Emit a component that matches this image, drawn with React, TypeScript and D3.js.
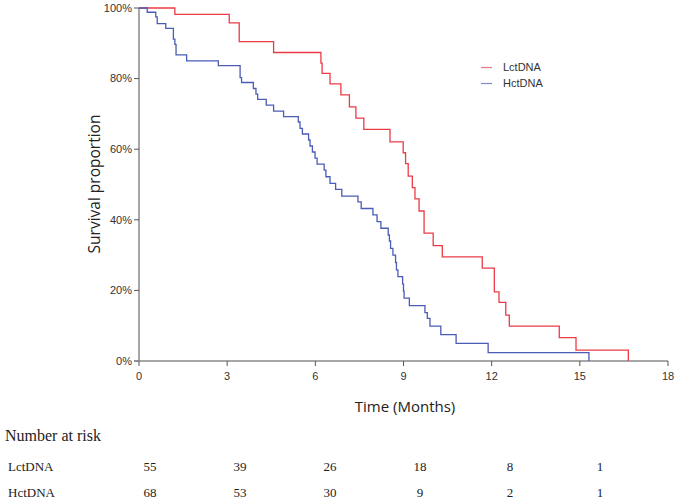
import React from "react";
import * as d3 from "d3";

const xTicks = [0, 3, 6, 9, 12, 15, 18];
const yTicks = [0, 0.2, 0.4, 0.6, 0.8, 1.0];

const lctTimes = [0, 1.22, 3.07, 3.41, 4.58, 6.19, 6.23, 6.5, 6.87, 7.16, 7.38, 7.65, 8.54, 8.99, 9.07, 9.16, 9.3, 9.39, 9.53, 9.7, 10.01, 10.32, 11.68, 12.09, 12.25, 12.48, 12.6, 14.3, 14.87, 16.65];
const lctSurv = [1, 0.982, 0.958, 0.905, 0.874, 0.844, 0.815, 0.785, 0.754, 0.72, 0.688, 0.656, 0.621, 0.59, 0.559, 0.524, 0.491, 0.459, 0.425, 0.362, 0.327, 0.295, 0.263, 0.196, 0.166, 0.13, 0.099, 0.066, 0.031, 0];

const hctTimes = [0, 0.28, 0.57, 0.62, 0.91, 1.17, 1.22, 1.26, 1.62, 2.7, 3.44, 3.49, 3.89, 3.98, 4.04, 4.33, 4.58, 4.92, 5.42, 5.48, 5.56, 5.77, 5.82, 5.9, 5.99, 6.06, 6.3, 6.36, 6.5, 6.69, 6.9, 7.45, 7.56, 7.96, 8.1, 8.23, 8.48, 8.52, 8.56, 8.64, 8.73, 8.76, 8.81, 8.97, 9.0, 9.02, 9.2, 9.73, 9.81, 9.9, 10.27, 10.79, 11.88, 15.31];
const hctSurv = [1, 0.988, 0.975, 0.956, 0.942, 0.912, 0.897, 0.867, 0.85, 0.837, 0.803, 0.789, 0.772, 0.756, 0.741, 0.725, 0.708, 0.692, 0.677, 0.659, 0.643, 0.626, 0.609, 0.592, 0.575, 0.558, 0.541, 0.522, 0.503, 0.486, 0.467, 0.451, 0.432, 0.414, 0.395, 0.376, 0.357, 0.34, 0.319, 0.3, 0.279, 0.258, 0.239, 0.218, 0.198, 0.178, 0.157, 0.137, 0.121, 0.099, 0.075, 0.05, 0.024, 0];

const groups = ["LctDNA", "HctDNA"];
const groupColors = ["#ec3b46", "#4a5cb6"];
const riskTimes = [0, 3, 6, 9, 12, 15];
const lctRisk = [55, 39, 26, 18, 8, 1];
const hctRisk = [68, 53, 30, 9, 2, 1];

export default function App() {
  const x = d3.scaleLinear().domain([0, 18]).range([139, 668]);
  const y = d3.scaleLinear().domain([0, 1]).range([361, 8]);
  const riskX = d3.scaleLinear().domain([0, 15]).range([150, 600]);

  const line = d3
    .line<[number, number]>()
    .x((d) => x(d[0]))
    .y((d) => y(d[1]))
    .curve(d3.curveStepAfter);

  const series = [
    { name: groups[0], color: groupColors[0], pts: lctTimes.map((t, i) => [t, lctSurv[i]] as [number, number]) },
    { name: groups[1], color: groupColors[1], pts: hctTimes.map((t, i) => [t, hctSurv[i]] as [number, number]) },
  ];
  const risks = [lctRisk, hctRisk];

  const axisColor = "#8a8a8a";
  const tickFont = "'Liberation Sans', Arial, sans-serif";
  const serif = "'Liberation Serif', 'Times New Roman', serif";

  return (
    <svg
      width={680}
      height={500}
      style={{ position: "absolute", left: 0, top: 0, background: "#fff" }}
    >
      {/* y axis */}
      <line x1={x(0)} x2={x(0)} y1={y(1)} y2={y(0)} stroke={axisColor} strokeWidth={1.5} />
      {yTicks.map((t) => (
        <g key={"y" + t}>
          <line x1={x(0) - 5} x2={x(0)} y1={y(t)} y2={y(t)} stroke="#555" strokeWidth={1} />
          <text
            x={x(0) - 7}
            y={y(t)}
            dy="0.35em"
            textAnchor="end"
            fontFamily={tickFont}
            fontSize={11}
            fill="#333"
          >
            {Math.round(t * 100) + "%"}
          </text>
        </g>
      ))}
      {/* x axis */}
      <line x1={x(0) - 5} x2={x(18)} y1={y(0)} y2={y(0)} stroke={axisColor} strokeWidth={1.5} />
      {xTicks.map((t) => (
        <g key={"x" + t}>
          <line x1={x(t)} x2={x(t)} y1={y(0)} y2={y(0) + 5} stroke="#555" strokeWidth={1} />
          <text
            x={x(t)}
            y={y(0) + 19}
            textAnchor="middle"
            fontFamily={tickFont}
            fontSize={11}
            fill="#333"
          >
            {t}
          </text>
        </g>
      ))}
      {/* curves */}
      {series.map((s) => (
        <path key={s.name} d={line(s.pts) || ""} fill="none" stroke={s.color} strokeWidth={1.3} />
      ))}
      {/* legend */}
      {series.map((s, i) => (
        <g key={"lg" + s.name}>
          <line x1={481} x2={492} y1={67.5 + i * 16} y2={67.5 + i * 16} stroke={s.color} strokeWidth={1.2} opacity={0.7} />
          <text x={503} y={67.5 + i * 16} dy="0.35em" fontFamily={tickFont} fontSize={11} fill="#333">
            {s.name}
          </text>
        </g>
      ))}
      {/* axis titles */}
      <text
        x={405}
        y={412}
        textAnchor="middle"
        fontFamily="'Open Sans', sans-serif"
        fontSize={15}
        fill="#222"
      >
        Time (Months)
      </text>
      <text
        transform={`translate(100, ${184}) rotate(-90)`}
        textAnchor="middle"
        fontFamily="'Open Sans', sans-serif"
        fontSize={15.5}
        fill="#222"
      >
        Survival proportion
      </text>
      {/* risk table */}
      <text x={5} y={441} fontFamily={serif} fontSize={16} fill="#222">
        Number at risk
      </text>
      {groups.map((g, gi) => (
        <g key={"rk" + g}>
          <text x={8} y={471 + gi * 26} fontFamily={serif} fontSize={13} fill="#222">
            {g}
          </text>
          {riskTimes.map((t, i) => (
            <text
              key={t}
              x={riskX(t)}
              y={471 + gi * 26}
              textAnchor="middle"
              fontFamily={serif}
              fontSize={13}
              fill="#222"
            >
              {risks[gi][i]}
            </text>
          ))}
        </g>
      ))}
    </svg>
  );
}
